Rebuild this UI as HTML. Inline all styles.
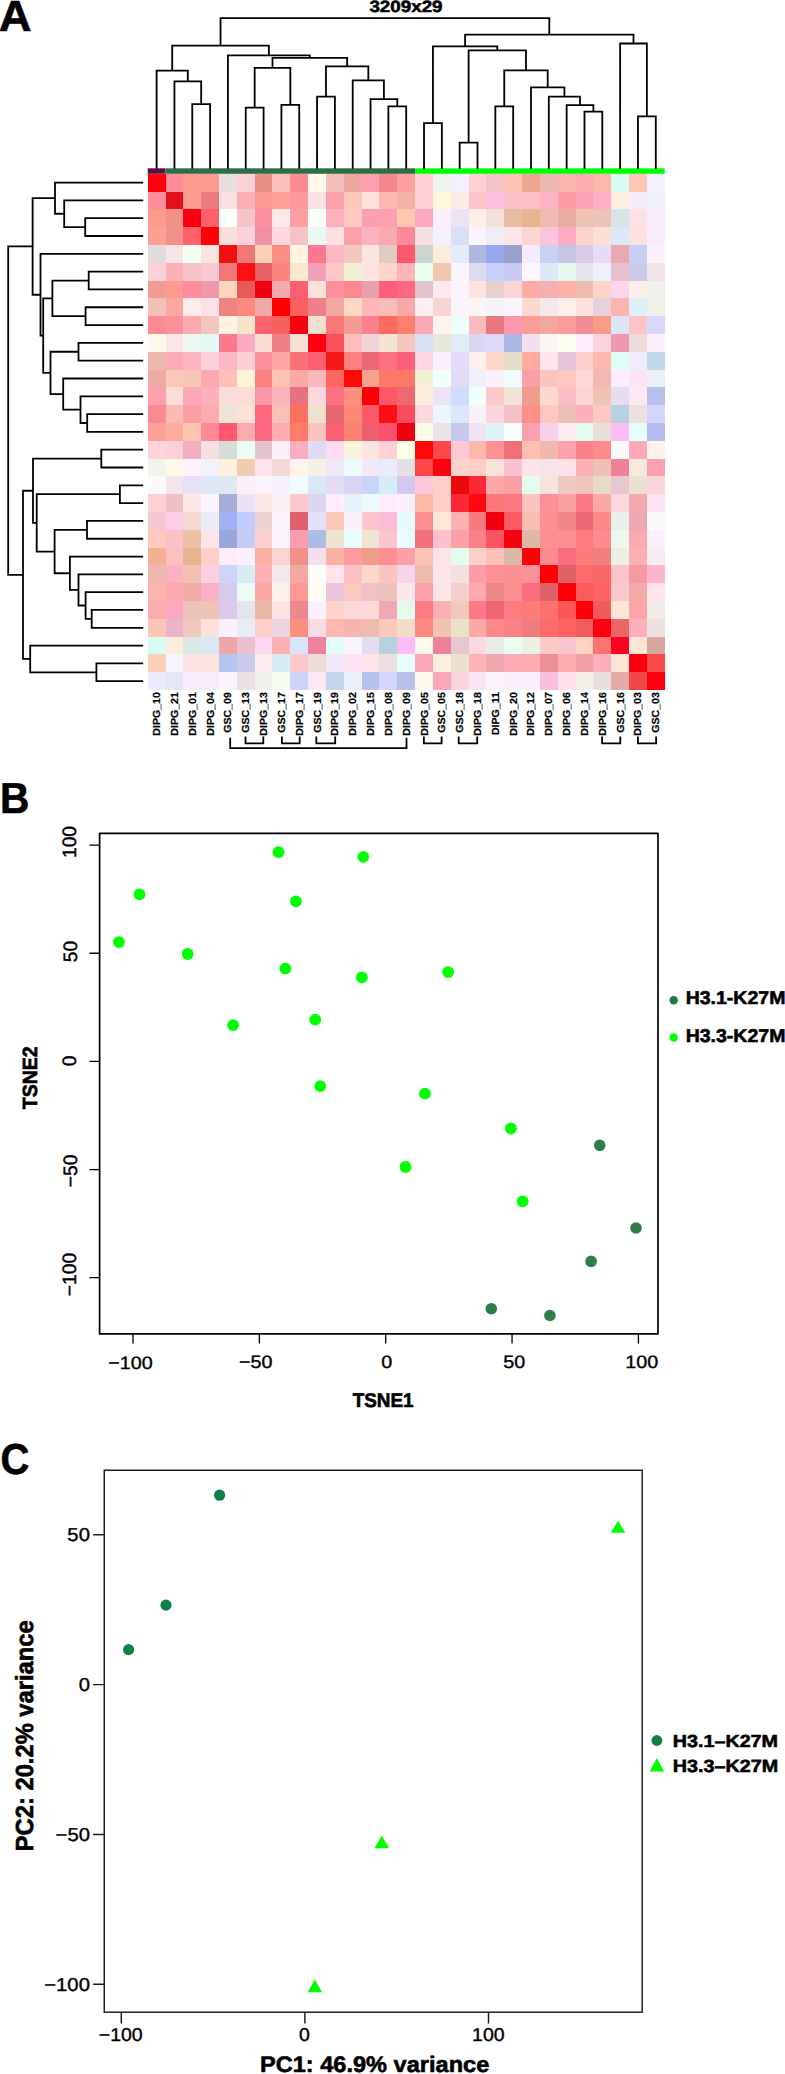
<!DOCTYPE html>
<html><head><meta charset="utf-8"><title>Figure</title>
<style>
html,body{margin:0;padding:0;background:#fff;}
svg{display:block;}
text{font-family:"Liberation Sans",Arial,Helvetica,sans-serif;fill:#000;text-rendering:geometricPrecision;}
.b{font-weight:bold;}
</style></head><body>
<svg width="785" height="2074" viewBox="0 0 785 2074">
<rect width="785" height="2074" fill="#fff"/>
<g shape-rendering="crispEdges">
<rect x="147.7" y="173.7" width="18.23" height="18.21" fill="#ff0010"/><rect x="165.53" y="173.7" width="18.23" height="18.21" fill="#fc8c98"/><rect x="183.36" y="173.7" width="18.23" height="18.21" fill="#fc9a8c"/><rect x="201.18" y="173.7" width="18.23" height="18.21" fill="#fc9a8e"/><rect x="219.01" y="173.7" width="18.23" height="18.21" fill="#e8e0e0"/><rect x="236.84" y="173.7" width="18.23" height="18.21" fill="#fdd0d8"/><rect x="254.67" y="173.7" width="18.23" height="18.21" fill="#e89088"/><rect x="272.49" y="173.7" width="18.23" height="18.21" fill="#f8c0b8"/><rect x="290.32" y="173.7" width="18.23" height="18.21" fill="#fc8c94"/><rect x="308.15" y="173.7" width="18.23" height="18.21" fill="#fff8ec"/><rect x="325.98" y="173.7" width="18.23" height="18.21" fill="#f4c0bc"/><rect x="343.8" y="173.7" width="18.23" height="18.21" fill="#eca8a0"/><rect x="361.63" y="173.7" width="18.23" height="18.21" fill="#fca0b0"/><rect x="379.46" y="173.7" width="18.23" height="18.21" fill="#f48890"/><rect x="397.29" y="173.7" width="18.23" height="18.21" fill="#fca0a0"/><rect x="415.11" y="173.7" width="18.23" height="18.21" fill="#fdd0d4"/><rect x="432.94" y="173.7" width="18.23" height="18.21" fill="#f0f4f0"/><rect x="450.77" y="173.7" width="18.23" height="18.21" fill="#f4f0fc"/><rect x="468.6" y="173.7" width="18.23" height="18.21" fill="#fdd0d4"/><rect x="486.42" y="173.7" width="18.23" height="18.21" fill="#f4c4c8"/><rect x="504.25" y="173.7" width="18.23" height="18.21" fill="#fcc4b4"/><rect x="522.08" y="173.7" width="18.23" height="18.21" fill="#eca890"/><rect x="539.91" y="173.7" width="18.23" height="18.21" fill="#ecb8b0"/><rect x="557.73" y="173.7" width="18.23" height="18.21" fill="#fcb4b0"/><rect x="575.56" y="173.7" width="18.23" height="18.21" fill="#fcacac"/><rect x="593.39" y="173.7" width="18.23" height="18.21" fill="#fcb8a8"/><rect x="611.22" y="173.7" width="18.23" height="18.21" fill="#d8fcf4"/><rect x="629.04" y="173.7" width="18.23" height="18.21" fill="#fcc8b4"/><rect x="646.87" y="173.7" width="17.83" height="18.21" fill="#f4f0fc"/>
<rect x="147.7" y="191.51" width="18.23" height="18.21" fill="#fc8c98"/><rect x="165.53" y="191.51" width="18.23" height="18.21" fill="#e2101c"/><rect x="183.36" y="191.51" width="18.23" height="18.21" fill="#fc9a90"/><rect x="201.18" y="191.51" width="18.23" height="18.21" fill="#e87c80"/><rect x="219.01" y="191.51" width="18.23" height="18.21" fill="#fde0e4"/><rect x="236.84" y="191.51" width="18.23" height="18.21" fill="#fcb0b8"/><rect x="254.67" y="191.51" width="18.23" height="18.21" fill="#fc9a94"/><rect x="272.49" y="191.51" width="18.23" height="18.21" fill="#fca098"/><rect x="290.32" y="191.51" width="18.23" height="18.21" fill="#fc98a0"/><rect x="308.15" y="191.51" width="18.23" height="18.21" fill="#fde0e4"/><rect x="325.98" y="191.51" width="18.23" height="18.21" fill="#fca0ac"/><rect x="343.8" y="191.51" width="18.23" height="18.21" fill="#f8c8b8"/><rect x="361.63" y="191.51" width="18.23" height="18.21" fill="#fde0dc"/><rect x="379.46" y="191.51" width="18.23" height="18.21" fill="#fcb8b0"/><rect x="397.29" y="191.51" width="18.23" height="18.21" fill="#f4b4a4"/><rect x="415.11" y="191.51" width="18.23" height="18.21" fill="#fdd0d4"/><rect x="432.94" y="191.51" width="18.23" height="18.21" fill="#fff8dc"/><rect x="450.77" y="191.51" width="18.23" height="18.21" fill="#fcece8"/><rect x="468.6" y="191.51" width="18.23" height="18.21" fill="#fdc4c8"/><rect x="486.42" y="191.51" width="18.23" height="18.21" fill="#fcc0dc"/><rect x="504.25" y="191.51" width="18.23" height="18.21" fill="#fcc0c8"/><rect x="522.08" y="191.51" width="18.23" height="18.21" fill="#fcc0c4"/><rect x="539.91" y="191.51" width="18.23" height="18.21" fill="#fcb4c4"/><rect x="557.73" y="191.51" width="18.23" height="18.21" fill="#fc9ca4"/><rect x="575.56" y="191.51" width="18.23" height="18.21" fill="#fca4b8"/><rect x="593.39" y="191.51" width="18.23" height="18.21" fill="#fcb0c8"/><rect x="611.22" y="191.51" width="18.23" height="18.21" fill="#fdeee0"/><rect x="629.04" y="191.51" width="18.23" height="18.21" fill="#f4ecf8"/><rect x="646.87" y="191.51" width="17.83" height="18.21" fill="#f0f0fc"/>
<rect x="147.7" y="209.31" width="18.23" height="18.21" fill="#fc9a8c"/><rect x="165.53" y="209.31" width="18.23" height="18.21" fill="#f09088"/><rect x="183.36" y="209.31" width="18.23" height="18.21" fill="#fa0010"/><rect x="201.18" y="209.31" width="18.23" height="18.21" fill="#fc6068"/><rect x="219.01" y="209.31" width="18.23" height="18.21" fill="#f8fff8"/><rect x="236.84" y="209.31" width="18.23" height="18.21" fill="#f4c4c8"/><rect x="254.67" y="209.31" width="18.23" height="18.21" fill="#fc90a0"/><rect x="272.49" y="209.31" width="18.23" height="18.21" fill="#fdeae8"/><rect x="290.32" y="209.31" width="18.23" height="18.21" fill="#fca0a4"/><rect x="308.15" y="209.31" width="18.23" height="18.21" fill="#f8fff8"/><rect x="325.98" y="209.31" width="18.23" height="18.21" fill="#fcb0c0"/><rect x="343.8" y="209.31" width="18.23" height="18.21" fill="#fcc8c0"/><rect x="361.63" y="209.31" width="18.23" height="18.21" fill="#f8a0b0"/><rect x="379.46" y="209.31" width="18.23" height="18.21" fill="#fca0b0"/><rect x="397.29" y="209.31" width="18.23" height="18.21" fill="#fcc8b0"/><rect x="415.11" y="209.31" width="18.23" height="18.21" fill="#fca8c0"/><rect x="432.94" y="209.31" width="18.23" height="18.21" fill="#fcf0fc"/><rect x="450.77" y="209.31" width="18.23" height="18.21" fill="#ece4f4"/><rect x="468.6" y="209.31" width="18.23" height="18.21" fill="#fdeee8"/><rect x="486.42" y="209.31" width="18.23" height="18.21" fill="#f4e0d8"/><rect x="504.25" y="209.31" width="18.23" height="18.21" fill="#e8bca0"/><rect x="522.08" y="209.31" width="18.23" height="18.21" fill="#e8b494"/><rect x="539.91" y="209.31" width="18.23" height="18.21" fill="#ecbcb0"/><rect x="557.73" y="209.31" width="18.23" height="18.21" fill="#e8aca0"/><rect x="575.56" y="209.31" width="18.23" height="18.21" fill="#f0c4b4"/><rect x="593.39" y="209.31" width="18.23" height="18.21" fill="#ecc4b8"/><rect x="611.22" y="209.31" width="18.23" height="18.21" fill="#d8e4e8"/><rect x="629.04" y="209.31" width="18.23" height="18.21" fill="#fde0e8"/><rect x="646.87" y="209.31" width="17.83" height="18.21" fill="#f8ecfc"/>
<rect x="147.7" y="227.12" width="18.23" height="18.21" fill="#fca094"/><rect x="165.53" y="227.12" width="18.23" height="18.21" fill="#f09088"/><rect x="183.36" y="227.12" width="18.23" height="18.21" fill="#fc6068"/><rect x="201.18" y="227.12" width="18.23" height="18.21" fill="#ff0008"/><rect x="219.01" y="227.12" width="18.23" height="18.21" fill="#f8e0d8"/><rect x="236.84" y="227.12" width="18.23" height="18.21" fill="#fcd0dc"/><rect x="254.67" y="227.12" width="18.23" height="18.21" fill="#f090a0"/><rect x="272.49" y="227.12" width="18.23" height="18.21" fill="#fdd8e0"/><rect x="290.32" y="227.12" width="18.23" height="18.21" fill="#f4c4c4"/><rect x="308.15" y="227.12" width="18.23" height="18.21" fill="#e8f8f4"/><rect x="325.98" y="227.12" width="18.23" height="18.21" fill="#fde0e4"/><rect x="343.8" y="227.12" width="18.23" height="18.21" fill="#fca0ac"/><rect x="361.63" y="227.12" width="18.23" height="18.21" fill="#fcb0c0"/><rect x="379.46" y="227.12" width="18.23" height="18.21" fill="#fca8b0"/><rect x="397.29" y="227.12" width="18.23" height="18.21" fill="#fc8898"/><rect x="415.11" y="227.12" width="18.23" height="18.21" fill="#f4e0e0"/><rect x="432.94" y="227.12" width="18.23" height="18.21" fill="#f4f0fc"/><rect x="450.77" y="227.12" width="18.23" height="18.21" fill="#d8e0f4"/><rect x="468.6" y="227.12" width="18.23" height="18.21" fill="#fcf4fc"/><rect x="486.42" y="227.12" width="18.23" height="18.21" fill="#f0ecf8"/><rect x="504.25" y="227.12" width="18.23" height="18.21" fill="#fde4e8"/><rect x="522.08" y="227.12" width="18.23" height="18.21" fill="#fcd4d0"/><rect x="539.91" y="227.12" width="18.23" height="18.21" fill="#fcc4dc"/><rect x="557.73" y="227.12" width="18.23" height="18.21" fill="#fcacc4"/><rect x="575.56" y="227.12" width="18.23" height="18.21" fill="#f8d4cc"/><rect x="593.39" y="227.12" width="18.23" height="18.21" fill="#fce0d8"/><rect x="611.22" y="227.12" width="18.23" height="18.21" fill="#dce8f8"/><rect x="629.04" y="227.12" width="18.23" height="18.21" fill="#fde0e0"/><rect x="646.87" y="227.12" width="17.83" height="18.21" fill="#f8ecfc"/>
<rect x="147.7" y="244.93" width="18.23" height="18.21" fill="#e0dcdc"/><rect x="165.53" y="244.93" width="18.23" height="18.21" fill="#fde4e4"/><rect x="183.36" y="244.93" width="18.23" height="18.21" fill="#f4fff4"/><rect x="201.18" y="244.93" width="18.23" height="18.21" fill="#fbe4dc"/><rect x="219.01" y="244.93" width="18.23" height="18.21" fill="#f01010"/><rect x="236.84" y="244.93" width="18.23" height="18.21" fill="#f07878"/><rect x="254.67" y="244.93" width="18.23" height="18.21" fill="#fcd0b8"/><rect x="272.49" y="244.93" width="18.23" height="18.21" fill="#fc8c84"/><rect x="290.32" y="244.93" width="18.23" height="18.21" fill="#fff4e4"/><rect x="308.15" y="244.93" width="18.23" height="18.21" fill="#fc7890"/><rect x="325.98" y="244.93" width="18.23" height="18.21" fill="#fcb8c4"/><rect x="343.8" y="244.93" width="18.23" height="18.21" fill="#f4c8c0"/><rect x="361.63" y="244.93" width="18.23" height="18.21" fill="#fce4e0"/><rect x="379.46" y="244.93" width="18.23" height="18.21" fill="#e0ccc0"/><rect x="397.29" y="244.93" width="18.23" height="18.21" fill="#fc5870"/><rect x="415.11" y="244.93" width="18.23" height="18.21" fill="#d0d4d0"/><rect x="432.94" y="244.93" width="18.23" height="18.21" fill="#fcecdc"/><rect x="450.77" y="244.93" width="18.23" height="18.21" fill="#e4ecfc"/><rect x="468.6" y="244.93" width="18.23" height="18.21" fill="#b0b8e0"/><rect x="486.42" y="244.93" width="18.23" height="18.21" fill="#98a8f0"/><rect x="504.25" y="244.93" width="18.23" height="18.21" fill="#98a0cc"/><rect x="522.08" y="244.93" width="18.23" height="18.21" fill="#f4ecfc"/><rect x="539.91" y="244.93" width="18.23" height="18.21" fill="#c8d0f4"/><rect x="557.73" y="244.93" width="18.23" height="18.21" fill="#c8c4e4"/><rect x="575.56" y="244.93" width="18.23" height="18.21" fill="#dcc8e8"/><rect x="593.39" y="244.93" width="18.23" height="18.21" fill="#e8dcf4"/><rect x="611.22" y="244.93" width="18.23" height="18.21" fill="#eaa8b0"/><rect x="629.04" y="244.93" width="18.23" height="18.21" fill="#c8cff4"/><rect x="646.87" y="244.93" width="17.83" height="18.21" fill="#fcf0fc"/>
<rect x="147.7" y="262.73" width="18.23" height="18.21" fill="#fcd0d8"/><rect x="165.53" y="262.73" width="18.23" height="18.21" fill="#fcb0b8"/><rect x="183.36" y="262.73" width="18.23" height="18.21" fill="#f4c4c8"/><rect x="201.18" y="262.73" width="18.23" height="18.21" fill="#f8c8d4"/><rect x="219.01" y="262.73" width="18.23" height="18.21" fill="#f07878"/><rect x="236.84" y="262.73" width="18.23" height="18.21" fill="#ff1010"/><rect x="254.67" y="262.73" width="18.23" height="18.21" fill="#e86068"/><rect x="272.49" y="262.73" width="18.23" height="18.21" fill="#fc8480"/><rect x="290.32" y="262.73" width="18.23" height="18.21" fill="#f8e8d0"/><rect x="308.15" y="262.73" width="18.23" height="18.21" fill="#f0a0b8"/><rect x="325.98" y="262.73" width="18.23" height="18.21" fill="#fcc8c8"/><rect x="343.8" y="262.73" width="18.23" height="18.21" fill="#f4f0d8"/><rect x="361.63" y="262.73" width="18.23" height="18.21" fill="#fde4e0"/><rect x="379.46" y="262.73" width="18.23" height="18.21" fill="#fcd4cc"/><rect x="397.29" y="262.73" width="18.23" height="18.21" fill="#fcb4b8"/><rect x="415.11" y="262.73" width="18.23" height="18.21" fill="#e8fff0"/><rect x="432.94" y="262.73" width="18.23" height="18.21" fill="#f0c8b0"/><rect x="450.77" y="262.73" width="18.23" height="18.21" fill="#fcf4fc"/><rect x="468.6" y="262.73" width="18.23" height="18.21" fill="#dcdcf0"/><rect x="486.42" y="262.73" width="18.23" height="18.21" fill="#c8d0fc"/><rect x="504.25" y="262.73" width="18.23" height="18.21" fill="#c8ccf4"/><rect x="522.08" y="262.73" width="18.23" height="18.21" fill="#fdf4fc"/><rect x="539.91" y="262.73" width="18.23" height="18.21" fill="#dceaf8"/><rect x="557.73" y="262.73" width="18.23" height="18.21" fill="#e8f8f0"/><rect x="575.56" y="262.73" width="18.23" height="18.21" fill="#e4e4ec"/><rect x="593.39" y="262.73" width="18.23" height="18.21" fill="#f0f0fc"/><rect x="611.22" y="262.73" width="18.23" height="18.21" fill="#e8c0d0"/><rect x="629.04" y="262.73" width="18.23" height="18.21" fill="#c8cce8"/><rect x="646.87" y="262.73" width="17.83" height="18.21" fill="#f0e4e8"/>
<rect x="147.7" y="280.54" width="18.23" height="18.21" fill="#f09c94"/><rect x="165.53" y="280.54" width="18.23" height="18.21" fill="#fc9c90"/><rect x="183.36" y="280.54" width="18.23" height="18.21" fill="#fc8c9c"/><rect x="201.18" y="280.54" width="18.23" height="18.21" fill="#f098a8"/><rect x="219.01" y="280.54" width="18.23" height="18.21" fill="#fcd4c0"/><rect x="236.84" y="280.54" width="18.23" height="18.21" fill="#e85a5a"/><rect x="254.67" y="280.54" width="18.23" height="18.21" fill="#f00010"/><rect x="272.49" y="280.54" width="18.23" height="18.21" fill="#f4aab0"/><rect x="290.32" y="280.54" width="18.23" height="18.21" fill="#fc6070"/><rect x="308.15" y="280.54" width="18.23" height="18.21" fill="#fde0d8"/><rect x="325.98" y="280.54" width="18.23" height="18.21" fill="#fc90a0"/><rect x="343.8" y="280.54" width="18.23" height="18.21" fill="#fc8890"/><rect x="361.63" y="280.54" width="18.23" height="18.21" fill="#e8a0b0"/><rect x="379.46" y="280.54" width="18.23" height="18.21" fill="#fc6078"/><rect x="397.29" y="280.54" width="18.23" height="18.21" fill="#fc6880"/><rect x="415.11" y="280.54" width="18.23" height="18.21" fill="#e4c4cc"/><rect x="432.94" y="280.54" width="18.23" height="18.21" fill="#fde8ec"/><rect x="450.77" y="280.54" width="18.23" height="18.21" fill="#fcf4fc"/><rect x="468.6" y="280.54" width="18.23" height="18.21" fill="#fde4e0"/><rect x="486.42" y="280.54" width="18.23" height="18.21" fill="#e8d0d0"/><rect x="504.25" y="280.54" width="18.23" height="18.21" fill="#fcd4d4"/><rect x="522.08" y="280.54" width="18.23" height="18.21" fill="#fcaca4"/><rect x="539.91" y="280.54" width="18.23" height="18.21" fill="#f4b0b0"/><rect x="557.73" y="280.54" width="18.23" height="18.21" fill="#fcb0a8"/><rect x="575.56" y="280.54" width="18.23" height="18.21" fill="#ecbcac"/><rect x="593.39" y="280.54" width="18.23" height="18.21" fill="#fcd4c8"/><rect x="611.22" y="280.54" width="18.23" height="18.21" fill="#fcd4ec"/><rect x="629.04" y="280.54" width="18.23" height="18.21" fill="#fdeeec"/><rect x="646.87" y="280.54" width="17.83" height="18.21" fill="#f0f0ec"/>
<rect x="147.7" y="298.35" width="18.23" height="18.21" fill="#f4c0b8"/><rect x="165.53" y="298.35" width="18.23" height="18.21" fill="#fca8a0"/><rect x="183.36" y="298.35" width="18.23" height="18.21" fill="#fcecec"/><rect x="201.18" y="298.35" width="18.23" height="18.21" fill="#fde0e8"/><rect x="219.01" y="298.35" width="18.23" height="18.21" fill="#f08480"/><rect x="236.84" y="298.35" width="18.23" height="18.21" fill="#fc8880"/><rect x="254.67" y="298.35" width="18.23" height="18.21" fill="#f0a8a8"/><rect x="272.49" y="298.35" width="18.23" height="18.21" fill="#ff0000"/><rect x="290.32" y="298.35" width="18.23" height="18.21" fill="#fc6060"/><rect x="308.15" y="298.35" width="18.23" height="18.21" fill="#f08088"/><rect x="325.98" y="298.35" width="18.23" height="18.21" fill="#f0a8a0"/><rect x="343.8" y="298.35" width="18.23" height="18.21" fill="#fdd8c8"/><rect x="361.63" y="298.35" width="18.23" height="18.21" fill="#fcb8b8"/><rect x="379.46" y="298.35" width="18.23" height="18.21" fill="#fcbcb8"/><rect x="397.29" y="298.35" width="18.23" height="18.21" fill="#fca8a8"/><rect x="415.11" y="298.35" width="18.23" height="18.21" fill="#fdeef4"/><rect x="432.94" y="298.35" width="18.23" height="18.21" fill="#f8d4d4"/><rect x="450.77" y="298.35" width="18.23" height="18.21" fill="#fcf4fc"/><rect x="468.6" y="298.35" width="18.23" height="18.21" fill="#fdf4f4"/><rect x="486.42" y="298.35" width="18.23" height="18.21" fill="#f4f4f8"/><rect x="504.25" y="298.35" width="18.23" height="18.21" fill="#fcf4fc"/><rect x="522.08" y="298.35" width="18.23" height="18.21" fill="#fcd8d0"/><rect x="539.91" y="298.35" width="18.23" height="18.21" fill="#f4e8ec"/><rect x="557.73" y="298.35" width="18.23" height="18.21" fill="#fcf0e8"/><rect x="575.56" y="298.35" width="18.23" height="18.21" fill="#fde0dc"/><rect x="593.39" y="298.35" width="18.23" height="18.21" fill="#e8d0dc"/><rect x="611.22" y="298.35" width="18.23" height="18.21" fill="#fcb4b0"/><rect x="629.04" y="298.35" width="18.23" height="18.21" fill="#dcf0f8"/><rect x="646.87" y="298.35" width="17.83" height="18.21" fill="#f0f0e8"/>
<rect x="147.7" y="316.16" width="18.23" height="18.21" fill="#fc8c94"/><rect x="165.53" y="316.16" width="18.23" height="18.21" fill="#fc9098"/><rect x="183.36" y="316.16" width="18.23" height="18.21" fill="#fcaab0"/><rect x="201.18" y="316.16" width="18.23" height="18.21" fill="#f4c4c0"/><rect x="219.01" y="316.16" width="18.23" height="18.21" fill="#fff4e4"/><rect x="236.84" y="316.16" width="18.23" height="18.21" fill="#f8e4cc"/><rect x="254.67" y="316.16" width="18.23" height="18.21" fill="#fc6470"/><rect x="272.49" y="316.16" width="18.23" height="18.21" fill="#f86060"/><rect x="290.32" y="316.16" width="18.23" height="18.21" fill="#f80010"/><rect x="308.15" y="316.16" width="18.23" height="18.21" fill="#f4e0d0"/><rect x="325.98" y="316.16" width="18.23" height="18.21" fill="#fc7878"/><rect x="343.8" y="316.16" width="18.23" height="18.21" fill="#f49c94"/><rect x="361.63" y="316.16" width="18.23" height="18.21" fill="#fc8090"/><rect x="379.46" y="316.16" width="18.23" height="18.21" fill="#fc6c60"/><rect x="397.29" y="316.16" width="18.23" height="18.21" fill="#fc8070"/><rect x="415.11" y="316.16" width="18.23" height="18.21" fill="#fca8b8"/><rect x="432.94" y="316.16" width="18.23" height="18.21" fill="#fff4ec"/><rect x="450.77" y="316.16" width="18.23" height="18.21" fill="#f0fcfc"/><rect x="468.6" y="316.16" width="18.23" height="18.21" fill="#f8bcc0"/><rect x="486.42" y="316.16" width="18.23" height="18.21" fill="#e87880"/><rect x="504.25" y="316.16" width="18.23" height="18.21" fill="#fc98b0"/><rect x="522.08" y="316.16" width="18.23" height="18.21" fill="#fc9c98"/><rect x="539.91" y="316.16" width="18.23" height="18.21" fill="#f0a8a0"/><rect x="557.73" y="316.16" width="18.23" height="18.21" fill="#fc9c9c"/><rect x="575.56" y="316.16" width="18.23" height="18.21" fill="#f08c94"/><rect x="593.39" y="316.16" width="18.23" height="18.21" fill="#fc9c88"/><rect x="611.22" y="316.16" width="18.23" height="18.21" fill="#dce4f8"/><rect x="629.04" y="316.16" width="18.23" height="18.21" fill="#fcc4c4"/><rect x="646.87" y="316.16" width="17.83" height="18.21" fill="#d8d8fc"/>
<rect x="147.7" y="333.96" width="18.23" height="18.21" fill="#fcf8ec"/><rect x="165.53" y="333.96" width="18.23" height="18.21" fill="#fde4e8"/><rect x="183.36" y="333.96" width="18.23" height="18.21" fill="#f0f8f4"/><rect x="201.18" y="333.96" width="18.23" height="18.21" fill="#e4f8f4"/><rect x="219.01" y="333.96" width="18.23" height="18.21" fill="#fc7890"/><rect x="236.84" y="333.96" width="18.23" height="18.21" fill="#fcaac0"/><rect x="254.67" y="333.96" width="18.23" height="18.21" fill="#f8dcd4"/><rect x="272.49" y="333.96" width="18.23" height="18.21" fill="#f08088"/><rect x="290.32" y="333.96" width="18.23" height="18.21" fill="#f4e0d4"/><rect x="308.15" y="333.96" width="18.23" height="18.21" fill="#ff0010"/><rect x="325.98" y="333.96" width="18.23" height="18.21" fill="#fc5060"/><rect x="343.8" y="333.96" width="18.23" height="18.21" fill="#fcc0bc"/><rect x="361.63" y="333.96" width="18.23" height="18.21" fill="#f0d4d8"/><rect x="379.46" y="333.96" width="18.23" height="18.21" fill="#f4e4d0"/><rect x="397.29" y="333.96" width="18.23" height="18.21" fill="#f4c8c0"/><rect x="415.11" y="333.96" width="18.23" height="18.21" fill="#dce0f4"/><rect x="432.94" y="333.96" width="18.23" height="18.21" fill="#e8e8dc"/><rect x="450.77" y="333.96" width="18.23" height="18.21" fill="#e0ecf8"/><rect x="468.6" y="333.96" width="18.23" height="18.21" fill="#d8d8f0"/><rect x="486.42" y="333.96" width="18.23" height="18.21" fill="#e0d8f8"/><rect x="504.25" y="333.96" width="18.23" height="18.21" fill="#acb8e4"/><rect x="522.08" y="333.96" width="18.23" height="18.21" fill="#f4e0ec"/><rect x="539.91" y="333.96" width="18.23" height="18.21" fill="#fdf4f4"/><rect x="557.73" y="333.96" width="18.23" height="18.21" fill="#fcfff0"/><rect x="575.56" y="333.96" width="18.23" height="18.21" fill="#fcecfc"/><rect x="593.39" y="333.96" width="18.23" height="18.21" fill="#fcd4dc"/><rect x="611.22" y="333.96" width="18.23" height="18.21" fill="#f098b0"/><rect x="629.04" y="333.96" width="18.23" height="18.21" fill="#ecdcdc"/><rect x="646.87" y="333.96" width="17.83" height="18.21" fill="#fcf0fc"/>
<rect x="147.7" y="351.77" width="18.23" height="18.21" fill="#ecb8b0"/><rect x="165.53" y="351.77" width="18.23" height="18.21" fill="#fcacb8"/><rect x="183.36" y="351.77" width="18.23" height="18.21" fill="#fcb4c0"/><rect x="201.18" y="351.77" width="18.23" height="18.21" fill="#fcd0d8"/><rect x="219.01" y="351.77" width="18.23" height="18.21" fill="#fcb8c4"/><rect x="236.84" y="351.77" width="18.23" height="18.21" fill="#fcd0d0"/><rect x="254.67" y="351.77" width="18.23" height="18.21" fill="#fc909c"/><rect x="272.49" y="351.77" width="18.23" height="18.21" fill="#fca8a4"/><rect x="290.32" y="351.77" width="18.23" height="18.21" fill="#fc7078"/><rect x="308.15" y="351.77" width="18.23" height="18.21" fill="#fc6070"/><rect x="325.98" y="351.77" width="18.23" height="18.21" fill="#f41818"/><rect x="343.8" y="351.77" width="18.23" height="18.21" fill="#fc8080"/><rect x="361.63" y="351.77" width="18.23" height="18.21" fill="#ec6878"/><rect x="379.46" y="351.77" width="18.23" height="18.21" fill="#fc7080"/><rect x="397.29" y="351.77" width="18.23" height="18.21" fill="#fc6078"/><rect x="415.11" y="351.77" width="18.23" height="18.21" fill="#fdd8e4"/><rect x="432.94" y="351.77" width="18.23" height="18.21" fill="#fcf0fc"/><rect x="450.77" y="351.77" width="18.23" height="18.21" fill="#e4dcf8"/><rect x="468.6" y="351.77" width="18.23" height="18.21" fill="#fdf0ec"/><rect x="486.42" y="351.77" width="18.23" height="18.21" fill="#fcd8cc"/><rect x="504.25" y="351.77" width="18.23" height="18.21" fill="#e4dcc8"/><rect x="522.08" y="351.77" width="18.23" height="18.21" fill="#fcac9c"/><rect x="539.91" y="351.77" width="18.23" height="18.21" fill="#fde4ec"/><rect x="557.73" y="351.77" width="18.23" height="18.21" fill="#e4c4d8"/><rect x="575.56" y="351.77" width="18.23" height="18.21" fill="#fcd0c8"/><rect x="593.39" y="351.77" width="18.23" height="18.21" fill="#fcb8b0"/><rect x="611.22" y="351.77" width="18.23" height="18.21" fill="#e0fcf4"/><rect x="629.04" y="351.77" width="18.23" height="18.21" fill="#f0ecfc"/><rect x="646.87" y="351.77" width="17.83" height="18.21" fill="#c4d8ec"/>
<rect x="147.7" y="369.58" width="18.23" height="18.21" fill="#ecaca4"/><rect x="165.53" y="369.58" width="18.23" height="18.21" fill="#fcc8b8"/><rect x="183.36" y="369.58" width="18.23" height="18.21" fill="#f8c4b8"/><rect x="201.18" y="369.58" width="18.23" height="18.21" fill="#fca8b0"/><rect x="219.01" y="369.58" width="18.23" height="18.21" fill="#fcc0b8"/><rect x="236.84" y="369.58" width="18.23" height="18.21" fill="#fcf4d8"/><rect x="254.67" y="369.58" width="18.23" height="18.21" fill="#fc8080"/><rect x="272.49" y="369.58" width="18.23" height="18.21" fill="#fcc4b0"/><rect x="290.32" y="369.58" width="18.23" height="18.21" fill="#fca8a4"/><rect x="308.15" y="369.58" width="18.23" height="18.21" fill="#fcb8bc"/><rect x="325.98" y="369.58" width="18.23" height="18.21" fill="#fc6860"/><rect x="343.8" y="369.58" width="18.23" height="18.21" fill="#ff0808"/><rect x="361.63" y="369.58" width="18.23" height="18.21" fill="#f8a090"/><rect x="379.46" y="369.58" width="18.23" height="18.21" fill="#fc7868"/><rect x="397.29" y="369.58" width="18.23" height="18.21" fill="#fc7868"/><rect x="415.11" y="369.58" width="18.23" height="18.21" fill="#f4f0d8"/><rect x="432.94" y="369.58" width="18.23" height="18.21" fill="#f0fff8"/><rect x="450.77" y="369.58" width="18.23" height="18.21" fill="#e0dcf8"/><rect x="468.6" y="369.58" width="18.23" height="18.21" fill="#f0f0fc"/><rect x="486.42" y="369.58" width="18.23" height="18.21" fill="#fcf0fc"/><rect x="504.25" y="369.58" width="18.23" height="18.21" fill="#f0fcfc"/><rect x="522.08" y="369.58" width="18.23" height="18.21" fill="#fca0a8"/><rect x="539.91" y="369.58" width="18.23" height="18.21" fill="#fcc4c0"/><rect x="557.73" y="369.58" width="18.23" height="18.21" fill="#fcc8c0"/><rect x="575.56" y="369.58" width="18.23" height="18.21" fill="#fcd8d8"/><rect x="593.39" y="369.58" width="18.23" height="18.21" fill="#f4b8b4"/><rect x="611.22" y="369.58" width="18.23" height="18.21" fill="#fcecfc"/><rect x="629.04" y="369.58" width="18.23" height="18.21" fill="#fce4f4"/><rect x="646.87" y="369.58" width="17.83" height="18.21" fill="#ecf0f8"/>
<rect x="147.7" y="387.38" width="18.23" height="18.21" fill="#fca0ac"/><rect x="165.53" y="387.38" width="18.23" height="18.21" fill="#fcdcd4"/><rect x="183.36" y="387.38" width="18.23" height="18.21" fill="#fca8b8"/><rect x="201.18" y="387.38" width="18.23" height="18.21" fill="#fcb0bc"/><rect x="219.01" y="387.38" width="18.23" height="18.21" fill="#fcdcd8"/><rect x="236.84" y="387.38" width="18.23" height="18.21" fill="#fcdcd4"/><rect x="254.67" y="387.38" width="18.23" height="18.21" fill="#f898a8"/><rect x="272.49" y="387.38" width="18.23" height="18.21" fill="#fcb4bc"/><rect x="290.32" y="387.38" width="18.23" height="18.21" fill="#e87080"/><rect x="308.15" y="387.38" width="18.23" height="18.21" fill="#fcd8dc"/><rect x="325.98" y="387.38" width="18.23" height="18.21" fill="#fc7080"/><rect x="343.8" y="387.38" width="18.23" height="18.21" fill="#fc9080"/><rect x="361.63" y="387.38" width="18.23" height="18.21" fill="#fa0008"/><rect x="379.46" y="387.38" width="18.23" height="18.21" fill="#fc5868"/><rect x="397.29" y="387.38" width="18.23" height="18.21" fill="#f06870"/><rect x="415.11" y="387.38" width="18.23" height="18.21" fill="#fcecdc"/><rect x="432.94" y="387.38" width="18.23" height="18.21" fill="#ece4f4"/><rect x="450.77" y="387.38" width="18.23" height="18.21" fill="#d0dcfc"/><rect x="468.6" y="387.38" width="18.23" height="18.21" fill="#f0fffc"/><rect x="486.42" y="387.38" width="18.23" height="18.21" fill="#fcc8c8"/><rect x="504.25" y="387.38" width="18.23" height="18.21" fill="#f0e4d8"/><rect x="522.08" y="387.38" width="18.23" height="18.21" fill="#f09c90"/><rect x="539.91" y="387.38" width="18.23" height="18.21" fill="#fcd8d0"/><rect x="557.73" y="387.38" width="18.23" height="18.21" fill="#fcbcc8"/><rect x="575.56" y="387.38" width="18.23" height="18.21" fill="#fcd4d0"/><rect x="593.39" y="387.38" width="18.23" height="18.21" fill="#f0c4b4"/><rect x="611.22" y="387.38" width="18.23" height="18.21" fill="#e8dcf0"/><rect x="629.04" y="387.38" width="18.23" height="18.21" fill="#fce8f4"/><rect x="646.87" y="387.38" width="17.83" height="18.21" fill="#b8c0ec"/>
<rect x="147.7" y="405.19" width="18.23" height="18.21" fill="#fc8890"/><rect x="165.53" y="405.19" width="18.23" height="18.21" fill="#f8bcb4"/><rect x="183.36" y="405.19" width="18.23" height="18.21" fill="#fca0a8"/><rect x="201.18" y="405.19" width="18.23" height="18.21" fill="#fcacb0"/><rect x="219.01" y="405.19" width="18.23" height="18.21" fill="#ece4d4"/><rect x="236.84" y="405.19" width="18.23" height="18.21" fill="#fde0d8"/><rect x="254.67" y="405.19" width="18.23" height="18.21" fill="#fc6880"/><rect x="272.49" y="405.19" width="18.23" height="18.21" fill="#f8c0b8"/><rect x="290.32" y="405.19" width="18.23" height="18.21" fill="#fc7060"/><rect x="308.15" y="405.19" width="18.23" height="18.21" fill="#f0e0d0"/><rect x="325.98" y="405.19" width="18.23" height="18.21" fill="#e86870"/><rect x="343.8" y="405.19" width="18.23" height="18.21" fill="#fc8878"/><rect x="361.63" y="405.19" width="18.23" height="18.21" fill="#fc5868"/><rect x="379.46" y="405.19" width="18.23" height="18.21" fill="#ff1010"/><rect x="397.29" y="405.19" width="18.23" height="18.21" fill="#fc4c60"/><rect x="415.11" y="405.19" width="18.23" height="18.21" fill="#fdd8dc"/><rect x="432.94" y="405.19" width="18.23" height="18.21" fill="#ecf4fc"/><rect x="450.77" y="405.19" width="18.23" height="18.21" fill="#dce8f8"/><rect x="468.6" y="405.19" width="18.23" height="18.21" fill="#fcf0f8"/><rect x="486.42" y="405.19" width="18.23" height="18.21" fill="#fcd4dc"/><rect x="504.25" y="405.19" width="18.23" height="18.21" fill="#f4c0c8"/><rect x="522.08" y="405.19" width="18.23" height="18.21" fill="#fc9088"/><rect x="539.91" y="405.19" width="18.23" height="18.21" fill="#fcc8c0"/><rect x="557.73" y="405.19" width="18.23" height="18.21" fill="#ecc0b8"/><rect x="575.56" y="405.19" width="18.23" height="18.21" fill="#fcb0bc"/><rect x="593.39" y="405.19" width="18.23" height="18.21" fill="#fcc8c0"/><rect x="611.22" y="405.19" width="18.23" height="18.21" fill="#b8d0e4"/><rect x="629.04" y="405.19" width="18.23" height="18.21" fill="#ece0e0"/><rect x="646.87" y="405.19" width="17.83" height="18.21" fill="#d4d4fc"/>
<rect x="147.7" y="423" width="18.23" height="18.21" fill="#fca098"/><rect x="165.53" y="423" width="18.23" height="18.21" fill="#fcaca0"/><rect x="183.36" y="423" width="18.23" height="18.21" fill="#fcc4b0"/><rect x="201.18" y="423" width="18.23" height="18.21" fill="#fc8898"/><rect x="219.01" y="423" width="18.23" height="18.21" fill="#fc5870"/><rect x="236.84" y="423" width="18.23" height="18.21" fill="#fcacb0"/><rect x="254.67" y="423" width="18.23" height="18.21" fill="#fc6880"/><rect x="272.49" y="423" width="18.23" height="18.21" fill="#fcacb0"/><rect x="290.32" y="423" width="18.23" height="18.21" fill="#fc7c68"/><rect x="308.15" y="423" width="18.23" height="18.21" fill="#fcc4c0"/><rect x="325.98" y="423" width="18.23" height="18.21" fill="#fc6074"/><rect x="343.8" y="423" width="18.23" height="18.21" fill="#fc8070"/><rect x="361.63" y="423" width="18.23" height="18.21" fill="#ec6070"/><rect x="379.46" y="423" width="18.23" height="18.21" fill="#fc5070"/><rect x="397.29" y="423" width="18.23" height="18.21" fill="#f00010"/><rect x="415.11" y="423" width="18.23" height="18.21" fill="#f8fce8"/><rect x="432.94" y="423" width="18.23" height="18.21" fill="#e8e4e8"/><rect x="450.77" y="423" width="18.23" height="18.21" fill="#c8c8ec"/><rect x="468.6" y="423" width="18.23" height="18.21" fill="#f0e4f4"/><rect x="486.42" y="423" width="18.23" height="18.21" fill="#e0f4f8"/><rect x="504.25" y="423" width="18.23" height="18.21" fill="#f8ffff"/><rect x="522.08" y="423" width="18.23" height="18.21" fill="#fca0b0"/><rect x="539.91" y="423" width="18.23" height="18.21" fill="#f8d0ec"/><rect x="557.73" y="423" width="18.23" height="18.21" fill="#fdecf0"/><rect x="575.56" y="423" width="18.23" height="18.21" fill="#e4fcf0"/><rect x="593.39" y="423" width="18.23" height="18.21" fill="#e8e0d8"/><rect x="611.22" y="423" width="18.23" height="18.21" fill="#fcbcf4"/><rect x="629.04" y="423" width="18.23" height="18.21" fill="#e8fcfc"/><rect x="646.87" y="423" width="17.83" height="18.21" fill="#b4bcf0"/>
<rect x="147.7" y="440.8" width="18.23" height="18.21" fill="#fdd4d8"/><rect x="165.53" y="440.8" width="18.23" height="18.21" fill="#fcd0d8"/><rect x="183.36" y="440.8" width="18.23" height="18.21" fill="#f0b0c0"/><rect x="201.18" y="440.8" width="18.23" height="18.21" fill="#f4e0e0"/><rect x="219.01" y="440.8" width="18.23" height="18.21" fill="#d8dcd8"/><rect x="236.84" y="440.8" width="18.23" height="18.21" fill="#ecfcf4"/><rect x="254.67" y="440.8" width="18.23" height="18.21" fill="#e4c4cc"/><rect x="272.49" y="440.8" width="18.23" height="18.21" fill="#fcf0f8"/><rect x="290.32" y="440.8" width="18.23" height="18.21" fill="#fcacc0"/><rect x="308.15" y="440.8" width="18.23" height="18.21" fill="#dcdcf4"/><rect x="325.98" y="440.8" width="18.23" height="18.21" fill="#fcdcf0"/><rect x="343.8" y="440.8" width="18.23" height="18.21" fill="#f8f4dc"/><rect x="361.63" y="440.8" width="18.23" height="18.21" fill="#fce4e0"/><rect x="379.46" y="440.8" width="18.23" height="18.21" fill="#fcd0d4"/><rect x="397.29" y="440.8" width="18.23" height="18.21" fill="#fcffe8"/><rect x="415.11" y="440.8" width="18.23" height="18.21" fill="#ff0808"/><rect x="432.94" y="440.8" width="18.23" height="18.21" fill="#fc4848"/><rect x="450.77" y="440.8" width="18.23" height="18.21" fill="#fcc8d4"/><rect x="468.6" y="440.8" width="18.23" height="18.21" fill="#fcb8a8"/><rect x="486.42" y="440.8" width="18.23" height="18.21" fill="#fc9094"/><rect x="504.25" y="440.8" width="18.23" height="18.21" fill="#f07078"/><rect x="522.08" y="440.8" width="18.23" height="18.21" fill="#fcc0b0"/><rect x="539.91" y="440.8" width="18.23" height="18.21" fill="#f0b8b0"/><rect x="557.73" y="440.8" width="18.23" height="18.21" fill="#fca0ac"/><rect x="575.56" y="440.8" width="18.23" height="18.21" fill="#fc8088"/><rect x="593.39" y="440.8" width="18.23" height="18.21" fill="#fc8c8c"/><rect x="611.22" y="440.8" width="18.23" height="18.21" fill="#fcf8fc"/><rect x="629.04" y="440.8" width="18.23" height="18.21" fill="#fca8b8"/><rect x="646.87" y="440.8" width="17.83" height="18.21" fill="#fcf4ec"/>
<rect x="147.7" y="458.61" width="18.23" height="18.21" fill="#f0f4ec"/><rect x="165.53" y="458.61" width="18.23" height="18.21" fill="#fff8e4"/><rect x="183.36" y="458.61" width="18.23" height="18.21" fill="#fcf4fc"/><rect x="201.18" y="458.61" width="18.23" height="18.21" fill="#f4f0fc"/><rect x="219.01" y="458.61" width="18.23" height="18.21" fill="#fcf0e0"/><rect x="236.84" y="458.61" width="18.23" height="18.21" fill="#f0ccb0"/><rect x="254.67" y="458.61" width="18.23" height="18.21" fill="#fde4ec"/><rect x="272.49" y="458.61" width="18.23" height="18.21" fill="#f4d8d8"/><rect x="290.32" y="458.61" width="18.23" height="18.21" fill="#fff4ec"/><rect x="308.15" y="458.61" width="18.23" height="18.21" fill="#f4f0e4"/><rect x="325.98" y="458.61" width="18.23" height="18.21" fill="#f0e8f8"/><rect x="343.8" y="458.61" width="18.23" height="18.21" fill="#ecfcfc"/><rect x="361.63" y="458.61" width="18.23" height="18.21" fill="#f4e8f8"/><rect x="379.46" y="458.61" width="18.23" height="18.21" fill="#e8ecfc"/><rect x="397.29" y="458.61" width="18.23" height="18.21" fill="#e4e0e4"/><rect x="415.11" y="458.61" width="18.23" height="18.21" fill="#fc4848"/><rect x="432.94" y="458.61" width="18.23" height="18.21" fill="#ff0010"/><rect x="450.77" y="458.61" width="18.23" height="18.21" fill="#fcd4cc"/><rect x="468.6" y="458.61" width="18.23" height="18.21" fill="#fcd0c8"/><rect x="486.42" y="458.61" width="18.23" height="18.21" fill="#f8e4d8"/><rect x="504.25" y="458.61" width="18.23" height="18.21" fill="#fcc0d0"/><rect x="522.08" y="458.61" width="18.23" height="18.21" fill="#fce4e8"/><rect x="539.91" y="458.61" width="18.23" height="18.21" fill="#f8e4e8"/><rect x="557.73" y="458.61" width="18.23" height="18.21" fill="#fde0e8"/><rect x="575.56" y="458.61" width="18.23" height="18.21" fill="#fcb0b8"/><rect x="593.39" y="458.61" width="18.23" height="18.21" fill="#f0c0b8"/><rect x="611.22" y="458.61" width="18.23" height="18.21" fill="#f08098"/><rect x="629.04" y="458.61" width="18.23" height="18.21" fill="#fce8dc"/><rect x="646.87" y="458.61" width="17.83" height="18.21" fill="#fca0b0"/>
<rect x="147.7" y="476.42" width="18.23" height="18.21" fill="#fcf8fc"/><rect x="165.53" y="476.42" width="18.23" height="18.21" fill="#f4e4ec"/><rect x="183.36" y="476.42" width="18.23" height="18.21" fill="#e8e0f4"/><rect x="201.18" y="476.42" width="18.23" height="18.21" fill="#e0e8f8"/><rect x="219.01" y="476.42" width="18.23" height="18.21" fill="#e0e8f4"/><rect x="236.84" y="476.42" width="18.23" height="18.21" fill="#fcf0f8"/><rect x="254.67" y="476.42" width="18.23" height="18.21" fill="#fcf4fc"/><rect x="272.49" y="476.42" width="18.23" height="18.21" fill="#f4f0fc"/><rect x="290.32" y="476.42" width="18.23" height="18.21" fill="#f0fcfc"/><rect x="308.15" y="476.42" width="18.23" height="18.21" fill="#d8e8f8"/><rect x="325.98" y="476.42" width="18.23" height="18.21" fill="#e4dcf4"/><rect x="343.8" y="476.42" width="18.23" height="18.21" fill="#dcd4f4"/><rect x="361.63" y="476.42" width="18.23" height="18.21" fill="#c8d4f8"/><rect x="379.46" y="476.42" width="18.23" height="18.21" fill="#d8ecf8"/><rect x="397.29" y="476.42" width="18.23" height="18.21" fill="#d4c8f0"/><rect x="415.11" y="476.42" width="18.23" height="18.21" fill="#fcc8d8"/><rect x="432.94" y="476.42" width="18.23" height="18.21" fill="#fcd0c8"/><rect x="450.77" y="476.42" width="18.23" height="18.21" fill="#ec0808"/><rect x="468.6" y="476.42" width="18.23" height="18.21" fill="#fc2838"/><rect x="486.42" y="476.42" width="18.23" height="18.21" fill="#fca8a8"/><rect x="504.25" y="476.42" width="18.23" height="18.21" fill="#fca0a8"/><rect x="522.08" y="476.42" width="18.23" height="18.21" fill="#e4fcf0"/><rect x="539.91" y="476.42" width="18.23" height="18.21" fill="#f8e4dc"/><rect x="557.73" y="476.42" width="18.23" height="18.21" fill="#f0c8c4"/><rect x="575.56" y="476.42" width="18.23" height="18.21" fill="#f0c4b8"/><rect x="593.39" y="476.42" width="18.23" height="18.21" fill="#e4dcc8"/><rect x="611.22" y="476.42" width="18.23" height="18.21" fill="#e8c8d0"/><rect x="629.04" y="476.42" width="18.23" height="18.21" fill="#ece0d0"/><rect x="646.87" y="476.42" width="17.83" height="18.21" fill="#fcd4dc"/>
<rect x="147.7" y="494.22" width="18.23" height="18.21" fill="#fcd0d4"/><rect x="165.53" y="494.22" width="18.23" height="18.21" fill="#ecc0c4"/><rect x="183.36" y="494.22" width="18.23" height="18.21" fill="#fde8e8"/><rect x="201.18" y="494.22" width="18.23" height="18.21" fill="#fcf4fc"/><rect x="219.01" y="494.22" width="18.23" height="18.21" fill="#a8acd8"/><rect x="236.84" y="494.22" width="18.23" height="18.21" fill="#e8e4f4"/><rect x="254.67" y="494.22" width="18.23" height="18.21" fill="#fde8e4"/><rect x="272.49" y="494.22" width="18.23" height="18.21" fill="#fcf0f4"/><rect x="290.32" y="494.22" width="18.23" height="18.21" fill="#fcc8cc"/><rect x="308.15" y="494.22" width="18.23" height="18.21" fill="#dcd4f0"/><rect x="325.98" y="494.22" width="18.23" height="18.21" fill="#fcecfc"/><rect x="343.8" y="494.22" width="18.23" height="18.21" fill="#e4f4fc"/><rect x="361.63" y="494.22" width="18.23" height="18.21" fill="#ecfcfc"/><rect x="379.46" y="494.22" width="18.23" height="18.21" fill="#fcecfc"/><rect x="397.29" y="494.22" width="18.23" height="18.21" fill="#fcf0fc"/><rect x="415.11" y="494.22" width="18.23" height="18.21" fill="#fcb8a8"/><rect x="432.94" y="494.22" width="18.23" height="18.21" fill="#fcd0c8"/><rect x="450.77" y="494.22" width="18.23" height="18.21" fill="#fc2838"/><rect x="468.6" y="494.22" width="18.23" height="18.21" fill="#ff0810"/><rect x="486.42" y="494.22" width="18.23" height="18.21" fill="#fc7878"/><rect x="504.25" y="494.22" width="18.23" height="18.21" fill="#fc7880"/><rect x="522.08" y="494.22" width="18.23" height="18.21" fill="#fcc4bc"/><rect x="539.91" y="494.22" width="18.23" height="18.21" fill="#fc9098"/><rect x="557.73" y="494.22" width="18.23" height="18.21" fill="#fca0a0"/><rect x="575.56" y="494.22" width="18.23" height="18.21" fill="#fc7888"/><rect x="593.39" y="494.22" width="18.23" height="18.21" fill="#fca8a8"/><rect x="611.22" y="494.22" width="18.23" height="18.21" fill="#fcd8e0"/><rect x="629.04" y="494.22" width="18.23" height="18.21" fill="#f0aab0"/><rect x="646.87" y="494.22" width="17.83" height="18.21" fill="#fce4f4"/>
<rect x="147.7" y="512.03" width="18.23" height="18.21" fill="#f4c8d0"/><rect x="165.53" y="512.03" width="18.23" height="18.21" fill="#fccce8"/><rect x="183.36" y="512.03" width="18.23" height="18.21" fill="#f4d8d4"/><rect x="201.18" y="512.03" width="18.23" height="18.21" fill="#ececf8"/><rect x="219.01" y="512.03" width="18.23" height="18.21" fill="#a0b0f4"/><rect x="236.84" y="512.03" width="18.23" height="18.21" fill="#c0ccfc"/><rect x="254.67" y="512.03" width="18.23" height="18.21" fill="#ecd4d4"/><rect x="272.49" y="512.03" width="18.23" height="18.21" fill="#fcf4fc"/><rect x="290.32" y="512.03" width="18.23" height="18.21" fill="#e06070"/><rect x="308.15" y="512.03" width="18.23" height="18.21" fill="#e4e0fc"/><rect x="325.98" y="512.03" width="18.23" height="18.21" fill="#fcc8b8"/><rect x="343.8" y="512.03" width="18.23" height="18.21" fill="#fcf0fc"/><rect x="361.63" y="512.03" width="18.23" height="18.21" fill="#fcc4cc"/><rect x="379.46" y="512.03" width="18.23" height="18.21" fill="#fcbcd4"/><rect x="397.29" y="512.03" width="18.23" height="18.21" fill="#e4fcfc"/><rect x="415.11" y="512.03" width="18.23" height="18.21" fill="#fc9090"/><rect x="432.94" y="512.03" width="18.23" height="18.21" fill="#fce8d4"/><rect x="450.77" y="512.03" width="18.23" height="18.21" fill="#fcb0b0"/><rect x="468.6" y="512.03" width="18.23" height="18.21" fill="#f87880"/><rect x="486.42" y="512.03" width="18.23" height="18.21" fill="#f00010"/><rect x="504.25" y="512.03" width="18.23" height="18.21" fill="#fc5a66"/><rect x="522.08" y="512.03" width="18.23" height="18.21" fill="#fcbcb4"/><rect x="539.91" y="512.03" width="18.23" height="18.21" fill="#fc9090"/><rect x="557.73" y="512.03" width="18.23" height="18.21" fill="#f08888"/><rect x="575.56" y="512.03" width="18.23" height="18.21" fill="#ec6878"/><rect x="593.39" y="512.03" width="18.23" height="18.21" fill="#fc8888"/><rect x="611.22" y="512.03" width="18.23" height="18.21" fill="#e8f0ec"/><rect x="629.04" y="512.03" width="18.23" height="18.21" fill="#eca8b4"/><rect x="646.87" y="512.03" width="17.83" height="18.21" fill="#fcf8fc"/>
<rect x="147.7" y="529.84" width="18.23" height="18.21" fill="#fcc8c0"/><rect x="165.53" y="529.84" width="18.23" height="18.21" fill="#fcc0c8"/><rect x="183.36" y="529.84" width="18.23" height="18.21" fill="#ecc0a4"/><rect x="201.18" y="529.84" width="18.23" height="18.21" fill="#fde4e8"/><rect x="219.01" y="529.84" width="18.23" height="18.21" fill="#98a8dc"/><rect x="236.84" y="529.84" width="18.23" height="18.21" fill="#c8ccf4"/><rect x="254.67" y="529.84" width="18.23" height="18.21" fill="#fcd0d0"/><rect x="272.49" y="529.84" width="18.23" height="18.21" fill="#fcf4fc"/><rect x="290.32" y="529.84" width="18.23" height="18.21" fill="#fc9cb0"/><rect x="308.15" y="529.84" width="18.23" height="18.21" fill="#acbce4"/><rect x="325.98" y="529.84" width="18.23" height="18.21" fill="#ece4d0"/><rect x="343.8" y="529.84" width="18.23" height="18.21" fill="#ecfcfc"/><rect x="361.63" y="529.84" width="18.23" height="18.21" fill="#f0e4d4"/><rect x="379.46" y="529.84" width="18.23" height="18.21" fill="#fcc4cc"/><rect x="397.29" y="529.84" width="18.23" height="18.21" fill="#ecfcfc"/><rect x="415.11" y="529.84" width="18.23" height="18.21" fill="#f07080"/><rect x="432.94" y="529.84" width="18.23" height="18.21" fill="#fcc0d0"/><rect x="450.77" y="529.84" width="18.23" height="18.21" fill="#fca0a8"/><rect x="468.6" y="529.84" width="18.23" height="18.21" fill="#fc8088"/><rect x="486.42" y="529.84" width="18.23" height="18.21" fill="#fc5462"/><rect x="504.25" y="529.84" width="18.23" height="18.21" fill="#f80010"/><rect x="522.08" y="529.84" width="18.23" height="18.21" fill="#dcb8a8"/><rect x="539.91" y="529.84" width="18.23" height="18.21" fill="#fc9090"/><rect x="557.73" y="529.84" width="18.23" height="18.21" fill="#fc9090"/><rect x="575.56" y="529.84" width="18.23" height="18.21" fill="#fc7c80"/><rect x="593.39" y="529.84" width="18.23" height="18.21" fill="#fc8c90"/><rect x="611.22" y="529.84" width="18.23" height="18.21" fill="#ecf8f0"/><rect x="629.04" y="529.84" width="18.23" height="18.21" fill="#fca8b0"/><rect x="646.87" y="529.84" width="17.83" height="18.21" fill="#fcf0fc"/>
<rect x="147.7" y="547.64" width="18.23" height="18.21" fill="#f4b090"/><rect x="165.53" y="547.64" width="18.23" height="18.21" fill="#fcc0c0"/><rect x="183.36" y="547.64" width="18.23" height="18.21" fill="#e8b490"/><rect x="201.18" y="547.64" width="18.23" height="18.21" fill="#fcd0c8"/><rect x="219.01" y="547.64" width="18.23" height="18.21" fill="#fcecfc"/><rect x="236.84" y="547.64" width="18.23" height="18.21" fill="#fcf0fc"/><rect x="254.67" y="547.64" width="18.23" height="18.21" fill="#fcb0a4"/><rect x="272.49" y="547.64" width="18.23" height="18.21" fill="#fcd4d0"/><rect x="290.32" y="547.64" width="18.23" height="18.21" fill="#f09088"/><rect x="308.15" y="547.64" width="18.23" height="18.21" fill="#f4e0ec"/><rect x="325.98" y="547.64" width="18.23" height="18.21" fill="#fcb0a4"/><rect x="343.8" y="547.64" width="18.23" height="18.21" fill="#fc9ca0"/><rect x="361.63" y="547.64" width="18.23" height="18.21" fill="#f09c88"/><rect x="379.46" y="547.64" width="18.23" height="18.21" fill="#fc9090"/><rect x="397.29" y="547.64" width="18.23" height="18.21" fill="#fca0a8"/><rect x="415.11" y="547.64" width="18.23" height="18.21" fill="#fcc4b4"/><rect x="432.94" y="547.64" width="18.23" height="18.21" fill="#fde4e8"/><rect x="450.77" y="547.64" width="18.23" height="18.21" fill="#e4fcf0"/><rect x="468.6" y="547.64" width="18.23" height="18.21" fill="#fcd0c8"/><rect x="486.42" y="547.64" width="18.23" height="18.21" fill="#fcc0b8"/><rect x="504.25" y="547.64" width="18.23" height="18.21" fill="#dcb8a8"/><rect x="522.08" y="547.64" width="18.23" height="18.21" fill="#ff0008"/><rect x="539.91" y="547.64" width="18.23" height="18.21" fill="#fc8c90"/><rect x="557.73" y="547.64" width="18.23" height="18.21" fill="#fc6c80"/><rect x="575.56" y="547.64" width="18.23" height="18.21" fill="#fc7c78"/><rect x="593.39" y="547.64" width="18.23" height="18.21" fill="#f08080"/><rect x="611.22" y="547.64" width="18.23" height="18.21" fill="#ecf0e4"/><rect x="629.04" y="547.64" width="18.23" height="18.21" fill="#fcb0b0"/><rect x="646.87" y="547.64" width="17.83" height="18.21" fill="#f8ecf4"/>
<rect x="147.7" y="565.45" width="18.23" height="18.21" fill="#ecb8b0"/><rect x="165.53" y="565.45" width="18.23" height="18.21" fill="#fcb0c0"/><rect x="183.36" y="565.45" width="18.23" height="18.21" fill="#f4c0b4"/><rect x="201.18" y="565.45" width="18.23" height="18.21" fill="#fcd0e0"/><rect x="219.01" y="565.45" width="18.23" height="18.21" fill="#d0d4f8"/><rect x="236.84" y="565.45" width="18.23" height="18.21" fill="#d8ecf4"/><rect x="254.67" y="565.45" width="18.23" height="18.21" fill="#fcb0b8"/><rect x="272.49" y="565.45" width="18.23" height="18.21" fill="#f4e8ec"/><rect x="290.32" y="565.45" width="18.23" height="18.21" fill="#f4a8a0"/><rect x="308.15" y="565.45" width="18.23" height="18.21" fill="#fffcf8"/><rect x="325.98" y="565.45" width="18.23" height="18.21" fill="#fde4ec"/><rect x="343.8" y="565.45" width="18.23" height="18.21" fill="#fcc0c0"/><rect x="361.63" y="565.45" width="18.23" height="18.21" fill="#fcd8cc"/><rect x="379.46" y="565.45" width="18.23" height="18.21" fill="#fcc4c0"/><rect x="397.29" y="565.45" width="18.23" height="18.21" fill="#f8d4ec"/><rect x="415.11" y="565.45" width="18.23" height="18.21" fill="#ecbcb0"/><rect x="432.94" y="565.45" width="18.23" height="18.21" fill="#fde4ec"/><rect x="450.77" y="565.45" width="18.23" height="18.21" fill="#f4e0dc"/><rect x="468.6" y="565.45" width="18.23" height="18.21" fill="#fc9ca8"/><rect x="486.42" y="565.45" width="18.23" height="18.21" fill="#fc9094"/><rect x="504.25" y="565.45" width="18.23" height="18.21" fill="#fc9090"/><rect x="522.08" y="565.45" width="18.23" height="18.21" fill="#fc9098"/><rect x="539.91" y="565.45" width="18.23" height="18.21" fill="#ff0008"/><rect x="557.73" y="565.45" width="18.23" height="18.21" fill="#e06068"/><rect x="575.56" y="565.45" width="18.23" height="18.21" fill="#fc6c6c"/><rect x="593.39" y="565.45" width="18.23" height="18.21" fill="#f86868"/><rect x="611.22" y="565.45" width="18.23" height="18.21" fill="#fcc4c8"/><rect x="629.04" y="565.45" width="18.23" height="18.21" fill="#f09ca0"/><rect x="646.87" y="565.45" width="17.83" height="18.21" fill="#fcb4d0"/>
<rect x="147.7" y="583.26" width="18.23" height="18.21" fill="#fcb4b0"/><rect x="165.53" y="583.26" width="18.23" height="18.21" fill="#fca8b0"/><rect x="183.36" y="583.26" width="18.23" height="18.21" fill="#f0aca4"/><rect x="201.18" y="583.26" width="18.23" height="18.21" fill="#fcb0c8"/><rect x="219.01" y="583.26" width="18.23" height="18.21" fill="#d4ccec"/><rect x="236.84" y="583.26" width="18.23" height="18.21" fill="#ecfcf4"/><rect x="254.67" y="583.26" width="18.23" height="18.21" fill="#fca8a4"/><rect x="272.49" y="583.26" width="18.23" height="18.21" fill="#fcf0ec"/><rect x="290.32" y="583.26" width="18.23" height="18.21" fill="#fc9898"/><rect x="308.15" y="583.26" width="18.23" height="18.21" fill="#fffcf0"/><rect x="325.98" y="583.26" width="18.23" height="18.21" fill="#ecc4dc"/><rect x="343.8" y="583.26" width="18.23" height="18.21" fill="#fcc8c0"/><rect x="361.63" y="583.26" width="18.23" height="18.21" fill="#f4c0c8"/><rect x="379.46" y="583.26" width="18.23" height="18.21" fill="#ecc4bc"/><rect x="397.29" y="583.26" width="18.23" height="18.21" fill="#fce8ec"/><rect x="415.11" y="583.26" width="18.23" height="18.21" fill="#fca0ac"/><rect x="432.94" y="583.26" width="18.23" height="18.21" fill="#fde4e8"/><rect x="450.77" y="583.26" width="18.23" height="18.21" fill="#f4d0cc"/><rect x="468.6" y="583.26" width="18.23" height="18.21" fill="#fca8ac"/><rect x="486.42" y="583.26" width="18.23" height="18.21" fill="#ec8888"/><rect x="504.25" y="583.26" width="18.23" height="18.21" fill="#fc9090"/><rect x="522.08" y="583.26" width="18.23" height="18.21" fill="#fc6c80"/><rect x="539.91" y="583.26" width="18.23" height="18.21" fill="#e06068"/><rect x="557.73" y="583.26" width="18.23" height="18.21" fill="#ff0008"/><rect x="575.56" y="583.26" width="18.23" height="18.21" fill="#fc5c5c"/><rect x="593.39" y="583.26" width="18.23" height="18.21" fill="#fc6464"/><rect x="611.22" y="583.26" width="18.23" height="18.21" fill="#fcc8d0"/><rect x="629.04" y="583.26" width="18.23" height="18.21" fill="#f0aaa8"/><rect x="646.87" y="583.26" width="17.83" height="18.21" fill="#fde4ec"/>
<rect x="147.7" y="601.07" width="18.23" height="18.21" fill="#fcacb0"/><rect x="165.53" y="601.07" width="18.23" height="18.21" fill="#fca8c0"/><rect x="183.36" y="601.07" width="18.23" height="18.21" fill="#ecc4b8"/><rect x="201.18" y="601.07" width="18.23" height="18.21" fill="#ecc4b8"/><rect x="219.01" y="601.07" width="18.23" height="18.21" fill="#dcc8e8"/><rect x="236.84" y="601.07" width="18.23" height="18.21" fill="#e4e4ec"/><rect x="254.67" y="601.07" width="18.23" height="18.21" fill="#e8b8a8"/><rect x="272.49" y="601.07" width="18.23" height="18.21" fill="#fde4e0"/><rect x="290.32" y="601.07" width="18.23" height="18.21" fill="#ec8890"/><rect x="308.15" y="601.07" width="18.23" height="18.21" fill="#fcf0fc"/><rect x="325.98" y="601.07" width="18.23" height="18.21" fill="#fcd4cc"/><rect x="343.8" y="601.07" width="18.23" height="18.21" fill="#fcd8d8"/><rect x="361.63" y="601.07" width="18.23" height="18.21" fill="#fcd8d8"/><rect x="379.46" y="601.07" width="18.23" height="18.21" fill="#f0a8b4"/><rect x="397.29" y="601.07" width="18.23" height="18.21" fill="#e4fcf0"/><rect x="415.11" y="601.07" width="18.23" height="18.21" fill="#fc7c84"/><rect x="432.94" y="601.07" width="18.23" height="18.21" fill="#fcb0b4"/><rect x="450.77" y="601.07" width="18.23" height="18.21" fill="#f4c8bc"/><rect x="468.6" y="601.07" width="18.23" height="18.21" fill="#fc7888"/><rect x="486.42" y="601.07" width="18.23" height="18.21" fill="#f06474"/><rect x="504.25" y="601.07" width="18.23" height="18.21" fill="#fc7c80"/><rect x="522.08" y="601.07" width="18.23" height="18.21" fill="#fc7c78"/><rect x="539.91" y="601.07" width="18.23" height="18.21" fill="#fc7070"/><rect x="557.73" y="601.07" width="18.23" height="18.21" fill="#f85858"/><rect x="575.56" y="601.07" width="18.23" height="18.21" fill="#ff0008"/><rect x="593.39" y="601.07" width="18.23" height="18.21" fill="#f05c5c"/><rect x="611.22" y="601.07" width="18.23" height="18.21" fill="#fde4d4"/><rect x="629.04" y="601.07" width="18.23" height="18.21" fill="#fca4a8"/><rect x="646.87" y="601.07" width="17.83" height="18.21" fill="#f0ece8"/>
<rect x="147.7" y="618.87" width="18.23" height="18.21" fill="#fcc4b4"/><rect x="165.53" y="618.87" width="18.23" height="18.21" fill="#ecb4c8"/><rect x="183.36" y="618.87" width="18.23" height="18.21" fill="#f0c8c0"/><rect x="201.18" y="618.87" width="18.23" height="18.21" fill="#fde0d8"/><rect x="219.01" y="618.87" width="18.23" height="18.21" fill="#fcf0fc"/><rect x="236.84" y="618.87" width="18.23" height="18.21" fill="#e8ecf8"/><rect x="254.67" y="618.87" width="18.23" height="18.21" fill="#fcd0c8"/><rect x="272.49" y="618.87" width="18.23" height="18.21" fill="#ecd4e0"/><rect x="290.32" y="618.87" width="18.23" height="18.21" fill="#fc9080"/><rect x="308.15" y="618.87" width="18.23" height="18.21" fill="#fcdce4"/><rect x="325.98" y="618.87" width="18.23" height="18.21" fill="#fcb8b0"/><rect x="343.8" y="618.87" width="18.23" height="18.21" fill="#f4b4b0"/><rect x="361.63" y="618.87" width="18.23" height="18.21" fill="#ecbcac"/><rect x="379.46" y="618.87" width="18.23" height="18.21" fill="#fcc8bc"/><rect x="397.29" y="618.87" width="18.23" height="18.21" fill="#f0dcc8"/><rect x="415.11" y="618.87" width="18.23" height="18.21" fill="#fc8884"/><rect x="432.94" y="618.87" width="18.23" height="18.21" fill="#f0c4b4"/><rect x="450.77" y="618.87" width="18.23" height="18.21" fill="#ece0c8"/><rect x="468.6" y="618.87" width="18.23" height="18.21" fill="#fca8a8"/><rect x="486.42" y="618.87" width="18.23" height="18.21" fill="#fc8888"/><rect x="504.25" y="618.87" width="18.23" height="18.21" fill="#fc8088"/><rect x="522.08" y="618.87" width="18.23" height="18.21" fill="#f07c80"/><rect x="539.91" y="618.87" width="18.23" height="18.21" fill="#fc6c6c"/><rect x="557.73" y="618.87" width="18.23" height="18.21" fill="#fc6464"/><rect x="575.56" y="618.87" width="18.23" height="18.21" fill="#f05c60"/><rect x="593.39" y="618.87" width="18.23" height="18.21" fill="#ff0010"/><rect x="611.22" y="618.87" width="18.23" height="18.21" fill="#ec6868"/><rect x="629.04" y="618.87" width="18.23" height="18.21" fill="#fcb0bc"/><rect x="646.87" y="618.87" width="17.83" height="18.21" fill="#ece0e0"/>
<rect x="147.7" y="636.68" width="18.23" height="18.21" fill="#d8fcf4"/><rect x="165.53" y="636.68" width="18.23" height="18.21" fill="#fdecdc"/><rect x="183.36" y="636.68" width="18.23" height="18.21" fill="#d8e8e4"/><rect x="201.18" y="636.68" width="18.23" height="18.21" fill="#d8e8f4"/><rect x="219.01" y="636.68" width="18.23" height="18.21" fill="#eca8a8"/><rect x="236.84" y="636.68" width="18.23" height="18.21" fill="#ecc0d0"/><rect x="254.67" y="636.68" width="18.23" height="18.21" fill="#fcd8f0"/><rect x="272.49" y="636.68" width="18.23" height="18.21" fill="#fcb0b0"/><rect x="290.32" y="636.68" width="18.23" height="18.21" fill="#d8e4f8"/><rect x="308.15" y="636.68" width="18.23" height="18.21" fill="#f080a0"/><rect x="325.98" y="636.68" width="18.23" height="18.21" fill="#e0fcf4"/><rect x="343.8" y="636.68" width="18.23" height="18.21" fill="#fcf4fc"/><rect x="361.63" y="636.68" width="18.23" height="18.21" fill="#e4dcf0"/><rect x="379.46" y="636.68" width="18.23" height="18.21" fill="#b8d0e0"/><rect x="397.29" y="636.68" width="18.23" height="18.21" fill="#fcbcf4"/><rect x="415.11" y="636.68" width="18.23" height="18.21" fill="#fdf8ec"/><rect x="432.94" y="636.68" width="18.23" height="18.21" fill="#f08098"/><rect x="450.77" y="636.68" width="18.23" height="18.21" fill="#e8c8d0"/><rect x="468.6" y="636.68" width="18.23" height="18.21" fill="#fcd8e0"/><rect x="486.42" y="636.68" width="18.23" height="18.21" fill="#e8ece8"/><rect x="504.25" y="636.68" width="18.23" height="18.21" fill="#ecfcf0"/><rect x="522.08" y="636.68" width="18.23" height="18.21" fill="#ecf0e4"/><rect x="539.91" y="636.68" width="18.23" height="18.21" fill="#fcc8c8"/><rect x="557.73" y="636.68" width="18.23" height="18.21" fill="#fcc4cc"/><rect x="575.56" y="636.68" width="18.23" height="18.21" fill="#fdd4c4"/><rect x="593.39" y="636.68" width="18.23" height="18.21" fill="#fc7470"/><rect x="611.22" y="636.68" width="18.23" height="18.21" fill="#ff0020"/><rect x="629.04" y="636.68" width="18.23" height="18.21" fill="#fde4d4"/><rect x="646.87" y="636.68" width="17.83" height="18.21" fill="#d8a8a0"/>
<rect x="147.7" y="654.49" width="18.23" height="18.21" fill="#fcd0b8"/><rect x="165.53" y="654.49" width="18.23" height="18.21" fill="#f8f4fc"/><rect x="183.36" y="654.49" width="18.23" height="18.21" fill="#fde4e4"/><rect x="201.18" y="654.49" width="18.23" height="18.21" fill="#fde4e0"/><rect x="219.01" y="654.49" width="18.23" height="18.21" fill="#b8c4f0"/><rect x="236.84" y="654.49" width="18.23" height="18.21" fill="#c8cce8"/><rect x="254.67" y="654.49" width="18.23" height="18.21" fill="#fdecec"/><rect x="272.49" y="654.49" width="18.23" height="18.21" fill="#d4ecf4"/><rect x="290.32" y="654.49" width="18.23" height="18.21" fill="#fcc8cc"/><rect x="308.15" y="654.49" width="18.23" height="18.21" fill="#ecdcdc"/><rect x="325.98" y="654.49" width="18.23" height="18.21" fill="#f0e8f8"/><rect x="343.8" y="654.49" width="18.23" height="18.21" fill="#fce4f4"/><rect x="361.63" y="654.49" width="18.23" height="18.21" fill="#fce4e8"/><rect x="379.46" y="654.49" width="18.23" height="18.21" fill="#ece0e0"/><rect x="397.29" y="654.49" width="18.23" height="18.21" fill="#e8fcfc"/><rect x="415.11" y="654.49" width="18.23" height="18.21" fill="#fca8b8"/><rect x="432.94" y="654.49" width="18.23" height="18.21" fill="#fdeee0"/><rect x="450.77" y="654.49" width="18.23" height="18.21" fill="#ece0d0"/><rect x="468.6" y="654.49" width="18.23" height="18.21" fill="#fcb4b8"/><rect x="486.42" y="654.49" width="18.23" height="18.21" fill="#f0a8b0"/><rect x="504.25" y="654.49" width="18.23" height="18.21" fill="#fcaab4"/><rect x="522.08" y="654.49" width="18.23" height="18.21" fill="#fcacb0"/><rect x="539.91" y="654.49" width="18.23" height="18.21" fill="#ec9098"/><rect x="557.73" y="654.49" width="18.23" height="18.21" fill="#fcacac"/><rect x="575.56" y="654.49" width="18.23" height="18.21" fill="#f4a0a8"/><rect x="593.39" y="654.49" width="18.23" height="18.21" fill="#fcb0bc"/><rect x="611.22" y="654.49" width="18.23" height="18.21" fill="#fde4d4"/><rect x="629.04" y="654.49" width="18.23" height="18.21" fill="#f80010"/><rect x="646.87" y="654.49" width="17.83" height="18.21" fill="#f84848"/>
<rect x="147.7" y="672.29" width="18.23" height="17.81" fill="#eceafc"/><rect x="165.53" y="672.29" width="18.23" height="17.81" fill="#e4e8f4"/><rect x="183.36" y="672.29" width="18.23" height="17.81" fill="#f8ecfc"/><rect x="201.18" y="672.29" width="18.23" height="17.81" fill="#f8ecfc"/><rect x="219.01" y="672.29" width="18.23" height="17.81" fill="#fcf4fc"/><rect x="236.84" y="672.29" width="18.23" height="17.81" fill="#ece0e4"/><rect x="254.67" y="672.29" width="18.23" height="17.81" fill="#f0f0ec"/><rect x="272.49" y="672.29" width="18.23" height="17.81" fill="#f4fcf0"/><rect x="290.32" y="672.29" width="18.23" height="17.81" fill="#d0d0fc"/><rect x="308.15" y="672.29" width="18.23" height="17.81" fill="#fce8f4"/><rect x="325.98" y="672.29" width="18.23" height="17.81" fill="#c4d4ec"/><rect x="343.8" y="672.29" width="18.23" height="17.81" fill="#ecf0fc"/><rect x="361.63" y="672.29" width="18.23" height="17.81" fill="#b8c0ec"/><rect x="379.46" y="672.29" width="18.23" height="17.81" fill="#d4d4fc"/><rect x="397.29" y="672.29" width="18.23" height="17.81" fill="#b8c0ec"/><rect x="415.11" y="672.29" width="18.23" height="17.81" fill="#fcf8ec"/><rect x="432.94" y="672.29" width="18.23" height="17.81" fill="#fca8b8"/><rect x="450.77" y="672.29" width="18.23" height="17.81" fill="#fcd4dc"/><rect x="468.6" y="672.29" width="18.23" height="17.81" fill="#fce4f4"/><rect x="486.42" y="672.29" width="18.23" height="17.81" fill="#fcf4fc"/><rect x="504.25" y="672.29" width="18.23" height="17.81" fill="#fcf0fc"/><rect x="522.08" y="672.29" width="18.23" height="17.81" fill="#fcf0fc"/><rect x="539.91" y="672.29" width="18.23" height="17.81" fill="#f8c0dc"/><rect x="557.73" y="672.29" width="18.23" height="17.81" fill="#fde0ec"/><rect x="575.56" y="672.29" width="18.23" height="17.81" fill="#f4f0e8"/><rect x="593.39" y="672.29" width="18.23" height="17.81" fill="#e8e0e0"/><rect x="611.22" y="672.29" width="18.23" height="17.81" fill="#e4aaa4"/><rect x="629.04" y="672.29" width="18.23" height="17.81" fill="#f04848"/><rect x="646.87" y="672.29" width="17.83" height="17.81" fill="#ff0010"/>
</g>
<rect x="147.7" y="168.3" width="17.83" height="5.5" fill="#5c1040"/>
<rect x="165.53" y="168.3" width="249.59" height="5.5" fill="#2d6e46"/>
<rect x="415.11" y="168.3" width="249.59" height="5.5" fill="#00ff00"/>
<path d="M192.27 168.8V104.2H210.1V168.8M174.44 168.8V81.3H201.18V104.2M156.61 168.8V70.6H187.81V81.3M245.75 168.8V107.7H263.58V168.8M281.41 168.8V104.9H299.23V168.8M254.67 107.7V67.8H290.32V104.9M317.06 168.8V96.7H334.89V168.8M388.37 168.8V106.3H406.2V168.8M370.54 168.8V99.2H397.29V106.3M352.72 168.8V80.3H383.92V99.2M325.98 96.7V66.3H368.32V80.3M272.49 67.8V57.8H347.15V66.3M227.92 168.8V55.3H309.82V57.8M172.21 70.6V45.7H268.87V55.3M424.03 168.8V123.1H441.86V168.8M459.68 168.8V142.7H477.51V168.8M495.34 168.8V106.3H513.17V168.8M584.48 168.8V111.6H602.3V168.8M566.65 168.8V105.2H593.39V111.6M548.82 168.8V96.7H580.02V105.2M530.99 168.8V87.4H564.42V96.7M504.25 106.3V70.3H547.71V87.4M468.6 142.7V50.3H525.98V70.3M432.94 123.1V46.4H497.29V50.3M637.96 168.8V116.3H655.79V168.8M620.13 168.8V43.5H646.87V116.3M465.11 46.4V34.6H633.5V43.5M220.54 45.7V18.2H549.31V34.6" fill="none" stroke="#000" stroke-width="1.8" stroke-linecap="butt" stroke-linejoin="miter"/>
<path d="M143.2 218.22H85.2V236.02H143.2M143.2 200.41H64.2V227.12H85.2M143.2 182.6H55V213.77H64.2M143.2 271.64H88.7V289.44H143.2M143.2 307.25H85.6V325.06H143.2M88.7 280.54H52.4V316.16H85.6M143.2 342.87H78.5V360.67H143.2M143.2 414.09H87.2V431.9H143.2M143.2 396.29H80.5V423H87.2M143.2 378.48H63.2V409.64H80.5M78.5 351.77H50.5V394.06H63.2M52.4 298.35H43.2V372.91H50.5M143.2 253.83H40.5V335.63H43.2M55 198.18H32.6V294.73H40.5M143.2 449.71H101.3V467.51H143.2M143.2 485.32H119.9V503.13H143.2M143.2 520.93H87V538.74H143.2M143.2 609.97H91.7V627.78H143.2M143.2 592.16H85.6V618.87H91.7M143.2 574.36H78.5V605.52H85.6M143.2 556.55H69.9V589.94H78.5M87 529.84H54.6V573.24H69.9M119.9 494.22H36.7V551.54H54.6M101.3 458.61H33V522.88H36.7M143.2 663.39H96.4V681.2H143.2M143.2 645.58H30.2V672.29H96.4M33 490.75H23V658.94H30.2M32.6 246.46H8.2V574.84H23" fill="none" stroke="#000" stroke-width="1.8" stroke-linecap="butt" stroke-linejoin="miter"/>
<path d="M245.5 736.6V743.4H263.3V736.6M281.9 736.6V743.4H299.7V736.6M316.3 736.6V743.4H335.2V736.6M423.9 736.6V743.4H441.6V736.6M458.7 736.6V743.4H477.2V736.6M602.1 736.6V743.4H620.3V736.6M637.9 736.6V743.4H656.1V736.6M230.2 737.8V748.2H406.5V737.8" fill="none" stroke="#000" stroke-width="1.8"/>
<rect x="99.6" y="833.4" width="558.4" height="500.5" fill="none" stroke="#000" stroke-width="1.7" stroke-linejoin="round"/>
<path d="M89.4 845.1H99.6M638.4 1333.9V1343.6M89.4 953.25H99.6M512.05 1333.9V1343.6M89.4 1061.4H99.6M385.7 1333.9V1343.6M89.4 1169.55H99.6M259.35 1333.9V1343.6M89.4 1277.7H99.6M133 1333.9V1343.6" stroke="#000" stroke-width="1.3"/>
<circle cx="118.9" cy="942.1" r="5.9" fill="#00ff00"/><circle cx="139.5" cy="894.4" r="5.9" fill="#00ff00"/><circle cx="187.7" cy="954" r="5.9" fill="#00ff00"/><circle cx="233.1" cy="1025.1" r="5.9" fill="#00ff00"/><circle cx="278.5" cy="852.2" r="5.9" fill="#00ff00"/><circle cx="295.9" cy="901.3" r="5.9" fill="#00ff00"/><circle cx="285.3" cy="968.7" r="5.9" fill="#00ff00"/><circle cx="315.2" cy="1019.6" r="5.9" fill="#00ff00"/><circle cx="320.2" cy="1086.1" r="5.9" fill="#00ff00"/><circle cx="363.3" cy="856.8" r="5.9" fill="#00ff00"/><circle cx="361.9" cy="977.4" r="5.9" fill="#00ff00"/><circle cx="448.1" cy="972.1" r="5.9" fill="#00ff00"/><circle cx="424.9" cy="1093.6" r="5.9" fill="#00ff00"/><circle cx="510.9" cy="1128.5" r="5.9" fill="#00ff00"/><circle cx="405.5" cy="1167" r="5.9" fill="#00ff00"/><circle cx="522.7" cy="1201.3" r="5.9" fill="#00ff00"/>
<circle cx="599.7" cy="1145.3" r="5.8" fill="#2f7e4a"/><circle cx="636" cy="1228" r="5.8" fill="#2f7e4a"/><circle cx="591.1" cy="1261.4" r="5.8" fill="#2f7e4a"/><circle cx="491.3" cy="1308.7" r="5.8" fill="#2f7e4a"/><circle cx="549.9" cy="1315.5" r="5.8" fill="#2f7e4a"/>
<circle cx="673.7" cy="1000.2" r="4.2" fill="#1f7a48"/>
<circle cx="673.7" cy="1037.5" r="4.2" fill="#00ff00"/>
<rect x="104.25" y="1470.25" width="537.95" height="541.95" fill="none" stroke="#1a1a1a" stroke-width="1.45"/>
<path d="M93.2 1534.8H104.25M93.2 1684.6H104.25M93.2 1834.4H104.25M93.2 1984.2H104.25M121.3 2012.2V2023.4M304.9 2012.2V2023.4M488.5 2012.2V2023.4" stroke="#1a1a1a" stroke-width="1.45"/>
<circle cx="219.6" cy="1495.2" r="5.6" fill="#0e8246"/><circle cx="166" cy="1605.1" r="5.6" fill="#0e8246"/><circle cx="128.6" cy="1649.6" r="5.6" fill="#0e8246"/>
<path d="M618 1520.8L625.3 1532.8L610.7 1532.8Z" fill="#00ff00"/><path d="M381.7 1835.7L389.1 1848.3L374.4 1848.3Z" fill="#00ff00"/><path d="M314.8 1979.4L322.1 1992.3L307.6 1992.3Z" fill="#00ff00"/>
<circle cx="656.9" cy="1740.5" r="5.4" fill="#0e8246"/>
<path d="M656.9 1757.9L664.1 1771.4L649.6 1771.4Z" fill="#00ff00"/>
<text class="b" font-size="44" stroke="#000" stroke-width="0.6" transform="translate(-1.261 31.182) scale(1.032 0.987)">A</text>
<text class="b" font-size="44" stroke="#000" stroke-width="0.6" transform="translate(-0.048 813.379) scale(0.926 0.984)">B</text>
<text class="b" font-size="44" stroke="#000" stroke-width="0.6" transform="translate(0.585 1473.614) scale(0.907 0.986)">C</text>
<text class="b" font-size="17.5" text-anchor="middle" stroke="#000" stroke-width="0.6" transform="translate(405.966 12.415) scale(1.073 0.934)">3209x29</text>
<text class="b" font-size="19.5" text-anchor="middle" stroke="#000" stroke-width="0.6" transform="translate(383.12 1406.851) scale(0.969 1.015)">TSNE1</text>
<text class="b" font-size="19.5" text-anchor="middle" stroke="#000" stroke-width="0.6" transform="translate(37.111 1077.796) rotate(-90) scale(1 1.056)">TSNE2</text>
<text class="b" font-size="23.5" text-anchor="middle" stroke="#000" stroke-width="0.6" transform="translate(374.629 2072.464) scale(1.003 0.956)">PC1: 46.9% variance</text>
<text class="b" font-size="23.5" text-anchor="middle" stroke="#000" stroke-width="0.6" transform="translate(33.298 1735.774) rotate(-90) scale(1.01 1.051)">PC2: 20.2% variance</text>
<text class="b" font-size="19" stroke="#000" stroke-width="0.6" transform="translate(672.775 1747.025) scale(1.038 0.915)">H3.1–K27M</text>
<text class="b" font-size="19" stroke="#000" stroke-width="0.6" transform="translate(672.785 1772.433) scale(1.039 0.928)">H3.3–K27M</text>
<text class="b" font-size="10.1" text-anchor="end" stroke="#000" stroke-width="0.2" transform="translate(160.095 692.097) rotate(-90) scale(1.05 1.018)">DIPG_10</text>
<text class="b" font-size="10.1" text-anchor="end" stroke="#000" stroke-width="0.2" transform="translate(177.922 692.097) rotate(-90) scale(1.05 1.018)">DIPG_21</text>
<text class="b" font-size="10.1" text-anchor="end" stroke="#000" stroke-width="0.2" transform="translate(195.75 692.097) rotate(-90) scale(1.05 1.018)">DIPG_01</text>
<text class="b" font-size="10.1" text-anchor="end" stroke="#000" stroke-width="0.2" transform="translate(213.577 692.097) rotate(-90) scale(1.05 1.018)">DIPG_04</text>
<text class="b" font-size="10.1" text-anchor="end" stroke="#000" stroke-width="0.2" transform="translate(231.405 692.097) rotate(-90) scale(1.05 1.018)">GSC_09</text>
<text class="b" font-size="10.1" text-anchor="end" stroke="#000" stroke-width="0.2" transform="translate(249.233 692.097) rotate(-90) scale(1.05 1.018)">GSC_13</text>
<text class="b" font-size="10.1" text-anchor="end" stroke="#000" stroke-width="0.2" transform="translate(267.06 692.097) rotate(-90) scale(1.05 1.018)">DIPG_13</text>
<text class="b" font-size="10.1" text-anchor="end" stroke="#000" stroke-width="0.2" transform="translate(284.888 692.097) rotate(-90) scale(1.05 1.018)">GSC_17</text>
<text class="b" font-size="10.1" text-anchor="end" stroke="#000" stroke-width="0.2" transform="translate(302.715 692.097) rotate(-90) scale(1.05 1.018)">DIPG_17</text>
<text class="b" font-size="10.1" text-anchor="end" stroke="#000" stroke-width="0.2" transform="translate(320.543 692.097) rotate(-90) scale(1.05 1.018)">GSC_19</text>
<text class="b" font-size="10.1" text-anchor="end" stroke="#000" stroke-width="0.2" transform="translate(338.371 692.097) rotate(-90) scale(1.05 1.018)">DIPG_19</text>
<text class="b" font-size="10.1" text-anchor="end" stroke="#000" stroke-width="0.2" transform="translate(356.198 692.097) rotate(-90) scale(1.05 1.018)">DIPG_02</text>
<text class="b" font-size="10.1" text-anchor="end" stroke="#000" stroke-width="0.2" transform="translate(374.026 692.097) rotate(-90) scale(1.05 1.018)">DIPG_15</text>
<text class="b" font-size="10.1" text-anchor="end" stroke="#000" stroke-width="0.2" transform="translate(391.853 692.097) rotate(-90) scale(1.05 1.018)">DIPG_08</text>
<text class="b" font-size="10.1" text-anchor="end" stroke="#000" stroke-width="0.2" transform="translate(409.681 692.097) rotate(-90) scale(1.05 1.018)">DIPG_09</text>
<text class="b" font-size="10.1" text-anchor="end" stroke="#000" stroke-width="0.2" transform="translate(427.509 692.097) rotate(-90) scale(1.05 1.018)">DIPG_05</text>
<text class="b" font-size="10.1" text-anchor="end" stroke="#000" stroke-width="0.2" transform="translate(445.336 692.097) rotate(-90) scale(1.05 1.018)">GSC_05</text>
<text class="b" font-size="10.1" text-anchor="end" stroke="#000" stroke-width="0.2" transform="translate(463.164 692.097) rotate(-90) scale(1.05 1.018)">GSC_18</text>
<text class="b" font-size="10.1" text-anchor="end" stroke="#000" stroke-width="0.2" transform="translate(480.991 692.097) rotate(-90) scale(1.05 1.018)">DIPG_18</text>
<text class="b" font-size="10.1" text-anchor="end" stroke="#000" stroke-width="0.2" transform="translate(498.819 692.097) rotate(-90) scale(1.05 1.018)">DIPG_11</text>
<text class="b" font-size="10.1" text-anchor="end" stroke="#000" stroke-width="0.2" transform="translate(516.646 692.097) rotate(-90) scale(1.05 1.018)">DIPG_20</text>
<text class="b" font-size="10.1" text-anchor="end" stroke="#000" stroke-width="0.2" transform="translate(534.474 692.097) rotate(-90) scale(1.05 1.018)">DIPG_12</text>
<text class="b" font-size="10.1" text-anchor="end" stroke="#000" stroke-width="0.2" transform="translate(552.302 692.097) rotate(-90) scale(1.05 1.018)">DIPG_07</text>
<text class="b" font-size="10.1" text-anchor="end" stroke="#000" stroke-width="0.2" transform="translate(570.129 692.097) rotate(-90) scale(1.05 1.018)">DIPG_06</text>
<text class="b" font-size="10.1" text-anchor="end" stroke="#000" stroke-width="0.2" transform="translate(587.957 692.097) rotate(-90) scale(1.05 1.018)">DIPG_14</text>
<text class="b" font-size="10.1" text-anchor="end" stroke="#000" stroke-width="0.2" transform="translate(605.784 692.097) rotate(-90) scale(1.05 1.018)">DIPG_16</text>
<text class="b" font-size="10.1" text-anchor="end" stroke="#000" stroke-width="0.2" transform="translate(623.612 692.097) rotate(-90) scale(1.05 1.018)">GSC_16</text>
<text class="b" font-size="10.1" text-anchor="end" stroke="#000" stroke-width="0.2" transform="translate(641.44 692.097) rotate(-90) scale(1.05 1.018)">DIPG_03</text>
<text class="b" font-size="10.1" text-anchor="end" stroke="#000" stroke-width="0.2" transform="translate(659.267 692.097) rotate(-90) scale(1.05 1.018)">GSC_03</text>
<text font-size="19.5" text-anchor="middle" stroke="#000" stroke-width="0.4" transform="translate(75.882 842.029) rotate(-90) scale(0.986 0.998)">100</text>
<text font-size="19.5" text-anchor="middle" stroke="#000" stroke-width="0.4" transform="translate(76.763 951.546) rotate(-90) scale(0.986 0.998)">50</text>
<text font-size="19.5" text-anchor="middle" stroke="#000" stroke-width="0.4" transform="translate(76.159 1060.835) rotate(-90) scale(0.986 0.998)">0</text>
<text font-size="19.5" text-anchor="middle" stroke="#000" stroke-width="0.4" transform="translate(76.789 1170.836) rotate(-90) scale(0.986 0.998)">−50</text>
<text font-size="19.5" text-anchor="middle" stroke="#000" stroke-width="0.4" transform="translate(75.981 1274.497) rotate(-90) scale(0.986 0.998)">−100</text>
<text font-size="19.5" text-anchor="middle" stroke="#000" stroke-width="0.4" transform="translate(130.383 1368.566) scale(1.012 0.927)">−100</text>
<text font-size="19.5" text-anchor="middle" stroke="#000" stroke-width="0.4" transform="translate(255.641 1368.357) scale(1.012 0.927)">−50</text>
<text font-size="19.5" text-anchor="middle" stroke="#000" stroke-width="0.4" transform="translate(386.766 1368.392) scale(1.012 0.927)">0</text>
<text font-size="19.5" text-anchor="middle" stroke="#000" stroke-width="0.4" transform="translate(514.217 1368.359) scale(1.012 0.927)">50</text>
<text font-size="19.5" text-anchor="middle" stroke="#000" stroke-width="0.4" transform="translate(641.639 1368.463) scale(1.012 0.927)">100</text>
<text font-size="19.5" text-anchor="end" stroke="#000" stroke-width="0.4" transform="translate(89.901 1541.315) scale(1.038 0.953)">50</text>
<text font-size="19.5" text-anchor="end" stroke="#000" stroke-width="0.4" transform="translate(89.901 1691.115) scale(1.038 0.953)">0</text>
<text font-size="19.5" text-anchor="end" stroke="#000" stroke-width="0.4" transform="translate(89.901 1840.915) scale(1.038 0.953)">−50</text>
<text font-size="19.5" text-anchor="end" stroke="#000" stroke-width="0.4" transform="translate(89.901 1990.715) scale(1.038 0.953)">−100</text>
<text font-size="19.5" text-anchor="middle" stroke="#000" stroke-width="0.4" transform="translate(120.718 2040.757) scale(1.001 0.958)">−100</text>
<text font-size="19.5" text-anchor="middle" stroke="#000" stroke-width="0.4" transform="translate(304.518 2040.757) scale(1.001 0.958)">0</text>
<text font-size="19.5" text-anchor="middle" stroke="#000" stroke-width="0.4" transform="translate(488.318 2040.757) scale(1.001 0.958)">100</text>
<text class="b" font-size="19.5" stroke="#000" stroke-width="0.6" transform="translate(685.677 1004.301) scale(1 0.945)">H3.1-K27M</text>
<text class="b" font-size="19.5" stroke="#000" stroke-width="0.6" transform="translate(685.677 1042.201) scale(1 0.945)">H3.3-K27M</text>
</svg>
</body></html>
